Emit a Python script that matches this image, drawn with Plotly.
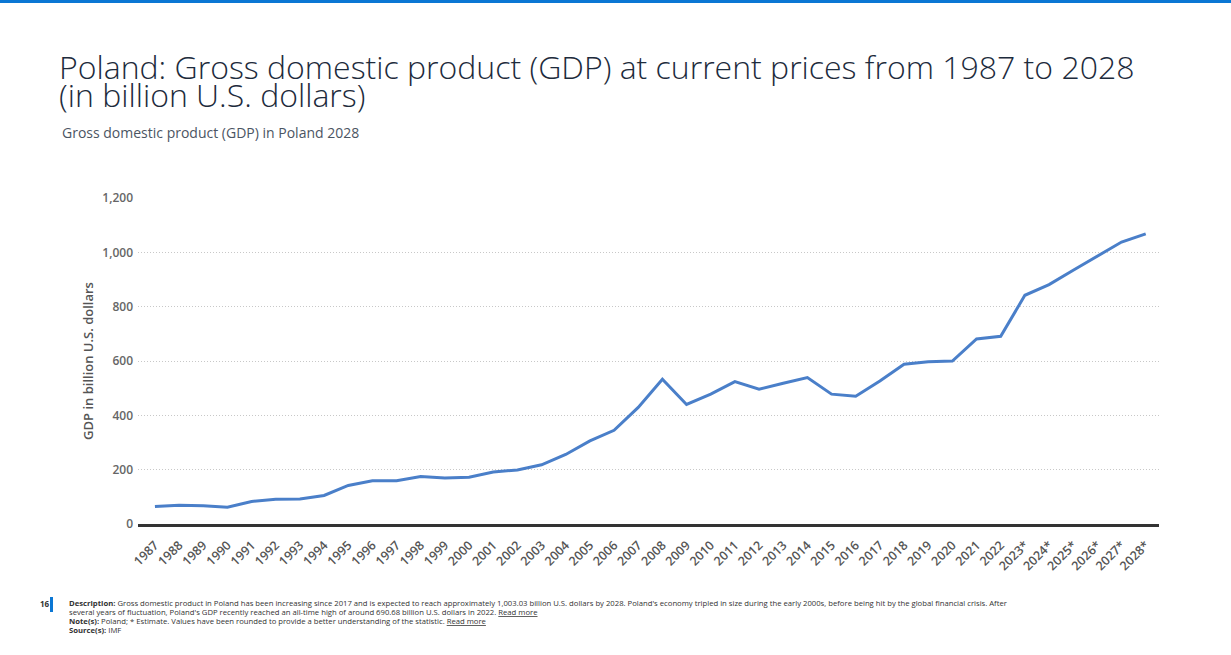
import plotly.graph_objects as go

years = ["1987","1988","1989","1990","1991","1992","1993","1994","1995","1996",
         "1997","1998","1999","2000","2001","2002","2003","2004","2005","2006",
         "2007","2008","2009","2010","2011","2012","2013","2014","2015","2016",
         "2017","2018","2019","2020","2021","2022","2023*","2024*","2025*","2026*",
         "2027*","2028*"]
gdp = [64, 69, 67, 62, 83, 91, 92, 105, 142, 159,
       159, 175, 169, 172, 191, 199, 218, 256, 306, 345,
       429, 533, 440, 478, 524, 496, 518, 539, 478, 470,
       526, 588, 597, 600, 681, 691, 842, 881, 934, 985,
       1038, 1068]
y_ticks = [0, 200, 400, 600, 800, 1000, 1200]

W, H = 1231, 655
ML, MR, MT, MB = 138, 72, 198, 131
PW, PH = W - ML - MR, H - MT - MB

def px(x):
    return (x - ML) / PW

def py(y):
    return (H - MB - y) / PH

fig = go.Figure()
fig.add_trace(go.Scatter(
    x=years, y=gdp, mode="lines",
    line=dict(color="#4a7fc9", width=3),
    hoverinfo="x+y", showlegend=False,
))

font_main = "Open Sans"
fig.update_layout(
    width=W, height=H,
    margin=dict(l=ML, r=MR, t=MT, b=MB, pad=0),
    paper_bgcolor="white", plot_bgcolor="white",
    font=dict(family=font_main),
    xaxis=dict(
        type="category", range=[-0.7, 41.55],
        tickangle=-45, showgrid=False, ticks="",
        showline=True, linecolor="#333333", linewidth=3,
        tickfont=dict(size=12.5, color="#555555", weight=600),
        ticklabelstandoff=6,
        fixedrange=True,
    ),
    yaxis=dict(
        range=[0, 1200], tickvals=y_ticks, tickformat=",",
        showgrid=True, gridcolor="#c8c8c8", griddash="1px,2px", gridwidth=1,
        zeroline=False, showline=False, ticks="",
        tickfont=dict(size=12, color="#666666", weight=600),
        ticklabelstandoff=4,
        title=dict(text="GDP in billion U.S. dollars", standoff=5,
                   font=dict(size=13, color="#555555", weight=600)),
        fixedrange=True,
    ),
)

annos = [
    dict(text="Poland: Gross domestic product (GDP) at current prices from 1987 to 2028",
         x=px(57), y=py(43), font=dict(size=32, color="#1d2b3c", weight=300)),
    dict(text="(in billion U.S. dollars)",
         x=px(57), y=py(71), font=dict(size=32, color="#1d2b3c", weight=300)),
    dict(text="Gross domestic product (GDP) in Poland 2028",
         x=px(60), y=py(121), font=dict(size=14, color="#4b5563")),
    dict(text="16", x=px(38), y=py(596), font=dict(size=8, color="#333333", weight=700)),
    dict(text="<b>Description:</b> Gross domestic product in Poland has been increasing since 2017 and is expected to reach approximately 1,003.03 billion U.S. dollars by 2028. Poland's economy tripled in size during the early 2000s, before being hit by the global financial crisis. After",
         x=px(67), y=py(596), font=dict(size=7.7, color="#333333")),
    dict(text="several years of fluctuation, Poland's GDP recently reached an all-time high of around 690.68 billion U.S. dollars in 2022. <u>Read more</u>",
         x=px(67), y=py(605), font=dict(size=7.7, color="#333333")),
    dict(text="<b>Note(s):</b> Poland; * Estimate. Values have been rounded to provide a better understanding of the statistic. <u>Read more</u>",
         x=px(67), y=py(614), font=dict(size=7.7, color="#333333")),
    dict(text="<b>Source(s):</b> IMF",
         x=px(67), y=py(623), font=dict(size=7.7, color="#333333")),
]
for a in annos:
    fig.add_annotation(xref="paper", yref="paper", xanchor="left", yanchor="top",
                       showarrow=False, align="left", **a)

fig.add_shape(type="rect", xref="paper", yref="paper",
              x0=px(0), x1=px(W), y0=py(0), y1=py(3),
              fillcolor="#0b77d4", line=dict(width=0), layer="above")
fig.add_shape(type="rect", xref="paper", yref="paper",
              x0=px(50), x1=px(53), y0=py(597), y1=py(612),
              fillcolor="#0b77d4", line=dict(width=0), layer="above")

fig.write_html("out.html", config={"displayModeBar": False},
               post_script="document.body.style.margin='0';")
